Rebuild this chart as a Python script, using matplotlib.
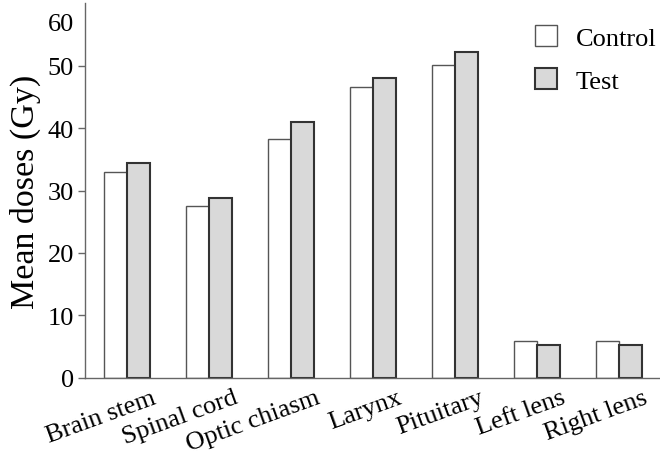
import numpy as np
import matplotlib
matplotlib.use("Agg")
import matplotlib.pyplot as plt
import matplotlib.transforms as mtransforms

plt.rcParams['font.family'] = ['Liberation Serif', 'DejaVu Serif']

# Organos y dosis medias (Gy)
organs = ['Brain stem', 'Spinal cord', 'Optic chiasm', 'Larynx',
          'Pituitary', 'Left lens', 'Right lens']
control = [33.0, 27.5, 38.2, 46.6, 50.1, 5.9, 5.9]
test = [34.4, 28.8, 41.0, 48.0, 52.2, 5.3, 5.2]
yticks = [0, 10, 20, 30, 40, 50, 60]

x = np.arange(len(organs))
w = 0.285

fig = plt.figure(figsize=(6.6, 4.56), dpi=100)
ax = fig.add_axes([0.129, 0.169, 0.871, 0.822])

ax.bar(x - w / 2, control, w, color='white', edgecolor='#555555',
       lw=1.0, label='Control')
ax.bar(x + w / 2, test, w, color='#d9d9d9', edgecolor='#333333',
       lw=1.5, label='Test')

ax.set_xlim(-0.51, 6.5)
ax.set_ylim(0, 60)
ax.set_yticks(yticks)
ax.tick_params(axis='y', direction='out', length=5, width=1,
               color='#666666', labelsize=19, pad=3)
# la etiqueta 60 queda algo mas abajo, como en la figura original
top = ax.get_yticklabels()[-1]
top.set_transform(top.get_transform() +
                  mtransforms.ScaledTranslation(0, -0.18, fig.dpi_scale_trans))
ax.get_yticklines()[-2].set_visible(False)

ax.set_xticks(x)
ax.set_xticklabels(organs, rotation=20, ha='right', rotation_mode='anchor',
                   fontsize=19)
ax.tick_params(axis='x', length=0, pad=6)
offset = mtransforms.ScaledTranslation(0.24, 0, fig.dpi_scale_trans)
for lab in ax.get_xticklabels():
    lab.set_transform(lab.get_transform() + offset)

for s in ['top', 'right']:
    ax.spines[s].set_visible(False)
for s in ['left', 'bottom']:
    ax.spines[s].set_color('#666666')
    ax.spines[s].set_linewidth(1)

ax.set_ylabel('Mean doses (Gy)', fontsize=24.5, labelpad=5)

ax.legend(loc='upper right', frameon=False, fontsize=19,
          handlelength=0.85, handleheight=0.85, handletextpad=0.7,
          labelspacing=0.7, borderaxespad=0.2, bbox_to_anchor=(1.021, 0.984))

fig.savefig('out.png', dpi=100)
